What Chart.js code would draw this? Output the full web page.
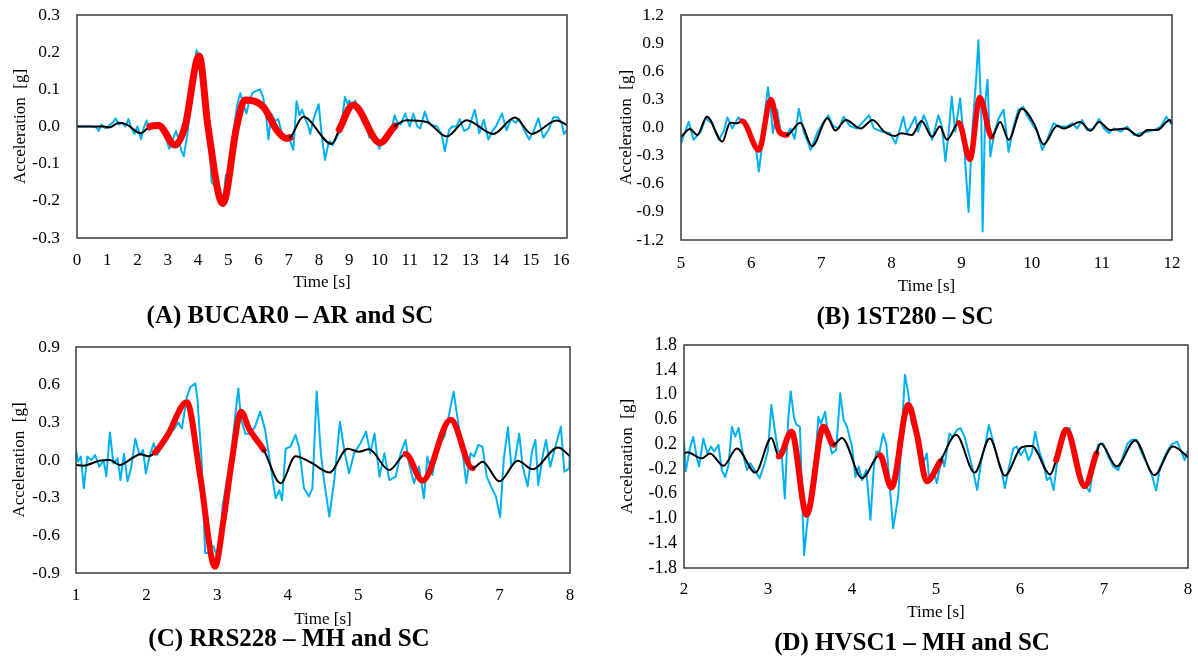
<!DOCTYPE html>
<html>
<head>
<meta charset="utf-8">
<script src="https://cdn.jsdelivr.net/npm/chart.js@4.4.0/dist/chart.umd.min.js"></script>
<style>
  body { margin: 0; width: 1198px; height: 661px; overflow: hidden; background: #fff; position: relative; }
  canvas { position: absolute; }
  .cap { position: absolute; font: bold 25px "Liberation Serif", serif; line-height: 30px; text-align: center; white-space: nowrap; color: #000; }
</style>
</head>
<body>
<canvas id="chartA"></canvas>
<canvas id="chartB"></canvas>
<canvas id="chartC"></canvas>
<canvas id="chartD"></canvas>
<div class="cap" style="left:90px;width:400px;top:300px">(A) BUCAR0 – AR and SC</div>
<div class="cap" style="left:705px;width:400px;top:301px">(B) 1ST280 – SC</div>
<div class="cap" style="left:89px;width:400px;top:623px">(C) RRS228 – MH and SC</div>
<div class="cap" style="left:712px;width:400px;top:627px">(D) HVSC1 – MH and SC</div>
<script>
// ---- (A) BUCAR0 ----
const aRangeX = [0, 16.2];
const aTicksX = [0, 1, 2, 3, 4, 5, 6, 7, 8, 9, 10, 11, 12, 13, 14, 15, 16];
const aTicksY = [-0.3, -0.2, -0.1, 0, 0.1, 0.2, 0.3];
const aBlue = [[0,0],[0.5,0],[0.65,-0.003],[0.72,-0.012],[0.8,0.005],[0.95,-0.005],[1.05,0.002],[1.2,0.012],[1.28,0.022],[1.38,0.005],[1.5,0.01],[1.6,0],[1.7,0.02],[1.8,-0.005],[1.9,-0.02],[2.0,0],[2.12,-0.034],[2.2,-0.005],[2.3,0.016],[2.38,-0.01],[2.5,0],[2.65,0.01],[2.8,-0.005],[2.95,-0.035],[3.05,-0.06],[3.15,-0.04],[3.27,-0.012],[3.38,-0.04],[3.45,-0.065],[3.53,-0.08],[3.65,-0.02],[3.75,0.05],[3.85,0.14],[3.95,0.205],[4.05,0.185],[4.12,0.19],[4.2,0.15],[4.3,0.06],[4.38,-0.05],[4.45,-0.15],[4.55,-0.16],[4.62,-0.14],[4.72,-0.19],[4.82,-0.21],[4.92,-0.13],[5.0,-0.125],[5.1,-0.06],[5.2,0],[5.3,0.06],[5.4,0.09],[5.5,0.06],[5.6,0.035],[5.7,0.07],[5.8,0.09],[5.9,0.095],[6.05,0.1],[6.15,0.08],[6.25,0.03],[6.33,-0.035],[6.42,0.035],[6.55,0.015],[6.65,0.02],[6.75,-0.01],[6.85,-0.035],[6.95,-0.025],[7.05,-0.04],[7.15,-0.063],[7.26,0.068],[7.36,0.03],[7.44,0.045],[7.55,0.02],[7.65,0],[7.71,-0.02],[7.82,0.02],[7.99,0.06],[8.1,-0.03],[8.2,-0.09],[8.3,-0.05],[8.37,-0.04],[8.45,-0.05],[8.55,-0.035],[8.7,-0.01],[8.78,0.03],[8.86,0.08],[8.95,0.06],[9.0,0.07],[9.1,0.05],[9.2,0.07],[9.3,0.045],[9.4,0.035],[9.5,0.025],[9.58,0],[9.66,-0.03],[9.78,-0.02],[9.9,-0.04],[10.0,-0.06],[10.1,-0.035],[10.2,-0.03],[10.3,-0.02],[10.4,-0.008],[10.5,0.03],[10.6,0.01],[10.7,0.005],[10.85,0.035],[11.0,0],[11.12,0.035],[11.25,0],[11.35,-0.005],[11.5,0.04],[11.6,0.015],[11.7,0.005],[11.9,0],[12.05,-0.02],[12.16,-0.066],[12.3,-0.01],[12.4,0],[12.55,0],[12.65,0.02],[12.8,-0.012],[12.95,-0.005],[13.15,0.045],[13.3,-0.018],[13.45,0.018],[13.6,-0.035],[13.75,-0.01],[13.85,0],[14.05,0.035],[14.2,-0.01],[14.35,0.02],[14.5,0.01],[14.62,0.02],[14.8,-0.012],[14.95,-0.035],[15.1,-0.012],[15.25,0.022],[15.42,-0.03],[15.6,-0.008],[15.75,0.025],[15.9,0.025],[16.02,0.01],[16.1,-0.02],[16.2,-0.01]];
const aSmooth = [[0,0],[0.9,0],[1.05,-0.003],[1.4,0.01],[1.65,0.005],[2.1,-0.018],[2.41,0],[2.7,0.003],[3.24,-0.05],[3.57,0],[4.04,0.19],[4.33,0],[4.82,-0.207],[5.28,0],[5.55,0.071],[6.16,0.053],[6.6,-0.009],[6.93,-0.032],[7.04,-0.03],[7.48,0.026],[8.42,-0.047],[8.67,-0.008],[9.13,0.058],[10.02,-0.044],[10.51,0.001],[10.9,0.017],[11.56,0.012],[12.22,-0.027],[12.88,0.017],[13.76,-0.02],[14.48,0.024],[15.03,-0.02],[15.86,0.016],[16.2,0.004]];
const aRed = [[2.41, 7.04], [8.67, 10.51]];

// ---- (B) 1ST280 ----
const bRangeX = [5, 12];
const bTicksX = [5, 6, 7, 8, 9, 10, 11, 12];
const bTicksY = [-1.2, -0.9, -0.6, -0.3, 0, 0.3, 0.6, 0.9, 1.2];
const bBlue = [[5.0,-0.17],[5.06,-0.045],[5.11,0.06],[5.18,-0.13],[5.28,-0.05],[5.35,0.1],[5.44,0.045],[5.54,-0.13],[5.61,-0.04],[5.66,0.11],[5.73,-0.01],[5.82,0.11],[5.9,0.03],[5.99,-0.1],[6.06,-0.17],[6.11,-0.47],[6.16,-0.17],[6.2,0.19],[6.24,0.43],[6.28,0.19],[6.31,-0.06],[6.37,0.19],[6.42,-0.045],[6.49,-0.1],[6.56,-0.01],[6.62,-0.12],[6.68,0.2],[6.75,-0.045],[6.85,-0.24],[6.94,-0.06],[7.01,0.03],[7.1,0.13],[7.17,0.015],[7.25,-0.01],[7.32,0.115],[7.41,0.015],[7.51,-0.01],[7.68,0.13],[7.75,-0.01],[7.87,-0.045],[7.98,-0.06],[8.06,-0.17],[8.11,-0.045],[8.17,0.115],[8.22,-0.06],[8.27,0.01],[8.34,0.115],[8.38,-0.045],[8.46,0.13],[8.5,0.06],[8.58,-0.13],[8.67,0.13],[8.72,0.01],[8.77,-0.36],[8.81,-0.1],[8.86,0.33],[8.91,-0.045],[8.98,0.31],[9.03,-0.13],[9.1,-0.9],[9.15,-0.06],[9.21,0.54],[9.24,0.93],[9.28,0.19],[9.3,-1.11],[9.34,0.29],[9.37,0.51],[9.41,-0.31],[9.47,-0.045],[9.53,0.1],[9.6,0.19],[9.67,-0.26],[9.74,0.01],[9.81,0.19],[9.88,0.22],[9.93,0.13],[10.0,0.045],[10.08,-0.045],[10.15,-0.24],[10.22,-0.13],[10.31,0.045],[10.41,0.01],[10.5,0.01],[10.58,0.045],[10.65,-0.01],[10.72,0.08],[10.79,-0.027],[10.88,-0.01],[10.96,0.09],[11.03,-0.01],[11.1,-0.06],[11.17,-0.01],[11.27,-0.045],[11.36,0.01],[11.46,-0.08],[11.55,-0.06],[11.65,-0.045],[11.74,-0.027],[11.84,0.01],[11.92,0.115],[12.0,0.027]];
const bSmooth = [[5.0,-0.1],[5.13,-0.015],[5.23,-0.08],[5.37,0.115],[5.59,-0.15],[5.7,0.05],[5.8,0.045],[5.87,0.07],[6.11,-0.24],[6.28,0.3],[6.4,-0.045],[6.51,-0.08],[6.7,0.05],[6.87,-0.2],[7.09,0.1],[7.2,-0.033],[7.35,0.08],[7.56,-0.01],[7.73,0.08],[7.9,-0.045],[8.05,-0.09],[8.14,-0.06],[8.29,-0.08],[8.43,0.07],[8.58,-0.1],[8.69,0.01],[8.79,-0.13],[8.96,0.05],[9.12,-0.34],[9.26,0.32],[9.43,-0.1],[9.55,0.06],[9.67,-0.13],[9.86,0.2],[10.03,0.045],[10.17,-0.18],[10.36,0.015],[10.46,-0.01],[10.69,0.06],[10.84,-0.035],[10.96,0.06],[11.12,-0.027],[11.34,-0.01],[11.53,-0.09],[11.65,-0.027],[11.79,-0.027],[11.97,0.08],[12.0,0.045]];
const bRed = [[5.87, 6.51], [8.96, 9.43]];

// ---- (C) RRS228 ----
const cRangeX = [1, 8];
const cTicksX = [1, 2, 3, 4, 5, 6, 7, 8];
const cTicksY = [-0.9, -0.6, -0.3, 0, 0.3, 0.6, 0.9];
const cBlue = [[1.0,0.08],[1.03,-0.013],[1.07,0.027],[1.11,-0.225],[1.16,0.027],[1.22,0],[1.27,0.04],[1.33,-0.053],[1.39,0],[1.43,-0.13],[1.48,0.22],[1.53,-0.027],[1.59,0.013],[1.63,-0.16],[1.68,0.05],[1.73,-0.17],[1.78,-0.066],[1.84,0.17],[1.9,0.04],[1.95,0.08],[1.99,-0.106],[2.04,0.027],[2.1,0.133],[2.15,0.04],[2.22,0.106],[2.29,0.2],[2.38,0.24],[2.45,0.3],[2.5,0.25],[2.57,0.5],[2.62,0.58],[2.69,0.61],[2.72,0.49],[2.78,0],[2.83,-0.74],[2.88,-0.74],[2.92,-0.68],[2.95,-0.69],[3.02,-0.8],[3.08,-0.35],[3.19,0],[3.26,0.37],[3.3,0.57],[3.34,0.32],[3.4,0.21],[3.47,0.21],[3.54,0.27],[3.61,0.385],[3.68,0.24],[3.73,0.053],[3.78,-0.13],[3.83,-0.305],[3.88,-0.24],[3.92,-0.32],[3.97,0.09],[4.04,0.106],[4.11,0.2],[4.16,0.106],[4.23,-0.225],[4.3,-0.29],[4.35,-0.225],[4.41,0.545],[4.47,0.053],[4.52,-0.186],[4.59,-0.45],[4.66,-0.16],[4.74,0.305],[4.8,0.08],[4.87,-0.106],[4.94,0.053],[5.03,0.133],[5.11,0.226],[5.17,0.053],[5.23,0.21],[5.3,-0.133],[5.37,0.053],[5.44,-0.16],[5.53,-0.133],[5.6,0.053],[5.67,0.16],[5.72,-0.027],[5.79,-0.186],[5.86,-0.053],[5.93,-0.305],[5.98,0.027],[6.05,-0.12],[6.12,0.106],[6.22,0.186],[6.29,0.37],[6.35,0.545],[6.41,0.32],[6.48,0.053],[6.53,-0.186],[6.59,0.053],[6.64,0.027],[6.7,0.12],[6.76,0.106],[6.82,-0.133],[6.88,-0.21],[6.95,-0.29],[7.01,-0.456],[7.06,0],[7.12,0.26],[7.17,-0.053],[7.22,0],[7.28,0.21],[7.33,-0.053],[7.4,-0.21],[7.46,0.066],[7.51,0.16],[7.55,-0.2],[7.62,0.053],[7.66,0.16],[7.72,-0.053],[7.78,0.08],[7.87,0.265],[7.92,-0.093],[7.99,-0.066],[8.0,0.09]];
const cSmooth = [[1.0,-0.04],[1.1,-0.045],[1.34,-0.005],[1.48,0],[1.62,-0.04],[1.81,0.02],[1.91,0.045],[2.03,0.03],[2.12,0.06],[2.29,0.19],[2.57,0.46],[2.76,-0.13],[2.97,-0.85],[3.09,-0.48],[3.21,0],[3.34,0.385],[3.45,0.25],[3.66,0.08],[3.9,-0.185],[4.11,0.03],[4.33,-0.02],[4.59,-0.1],[4.85,0.09],[5.01,0.066],[5.15,0.085],[5.44,-0.08],[5.67,0.048],[5.91,-0.165],[6.31,0.32],[6.62,-0.066],[6.76,-0.013],[7.0,-0.17],[7.26,-0.005],[7.47,-0.074],[7.83,0.1],[8.0,0.03]];
const cRed = [[2.12, 3.66], [5.67, 6.62]];

// ---- (D) HVSC1 ----
const dRangeX = [2, 8];
const dTicksX = [2, 3, 4, 5, 6, 7, 8];
const dTicksY = [-1.8, -1.4, -1.0, -0.6, -0.2, 0.2, 0.6, 1.0, 1.4, 1.8];
const dBlue = [[2.0,0.24],[2.02,-0.24],[2.07,0.13],[2.11,0.32],[2.15,0],[2.18,-0.16],[2.23,0.29],[2.28,0.05],[2.32,0.16],[2.36,0.08],[2.41,0.19],[2.45,-0.22],[2.49,-0.33],[2.53,-0.14],[2.57,0.48],[2.61,0.32],[2.65,0.46],[2.7,0.05],[2.75,-0.22],[2.79,-0.11],[2.85,-0.24],[2.9,-0.35],[2.96,-0.11],[3.0,0.1],[3.04,0.83],[3.08,0.43],[3.12,0.08],[3.16,0.1],[3.2,-0.68],[3.24,0.59],[3.27,1.05],[3.31,0.62],[3.34,0.51],[3.38,0.48],[3.41,-0.81],[3.43,-1.59],[3.46,-1.16],[3.5,-0.7],[3.55,-0.27],[3.6,0.64],[3.63,0.53],[3.68,0.72],[3.72,0.29],[3.76,0.05],[3.81,0.1],[3.86,1.02],[3.9,0.59],[3.94,0.48],[4.0,0.16],[4.04,-0.33],[4.08,-0.16],[4.12,-0.38],[4.17,-0.22],[4.22,-1.02],[4.26,-0.16],[4.29,0.08],[4.33,0.08],[4.37,0.37],[4.41,0.19],[4.45,-0.49],[4.49,-1.16],[4.53,-0.81],[4.55,-0.65],[4.59,0.32],[4.63,1.32],[4.67,1.02],[4.71,0.54],[4.77,0.35],[4.82,0.1],[4.85,-0.11],[4.89,0.05],[4.92,-0.38],[4.97,-0.22],[5.01,-0.43],[5.07,0],[5.1,-0.16],[5.16,0.37],[5.2,0.32],[5.25,0.43],[5.29,0.46],[5.34,0.32],[5.39,0.05],[5.44,-0.22],[5.49,-0.54],[5.54,-0.06],[5.59,0.21],[5.63,0.51],[5.68,0.24],[5.74,-0.06],[5.78,-0.22],[5.82,-0.51],[5.87,-0.16],[5.92,0.13],[5.96,0.16],[6.01,0.02],[6.06,0.13],[6.1,-0.06],[6.14,0.05],[6.18,0.4],[6.23,0.08],[6.28,-0.11],[6.32,-0.38],[6.36,-0.33],[6.4,-0.54],[6.44,-0.11],[6.49,0.13],[6.55,0.43],[6.59,0.46],[6.65,0.16],[6.71,-0.24],[6.77,-0.46],[6.83,-0.57],[6.88,-0.11],[6.93,0.19],[6.99,0.21],[7.05,0],[7.11,-0.16],[7.17,-0.22],[7.23,0.02],[7.28,0.21],[7.33,0.27],[7.39,0.27],[7.45,0.05],[7.51,-0.11],[7.57,-0.3],[7.62,-0.55],[7.67,-0.16],[7.74,0.05],[7.8,0.19],[7.87,0.24],[7.92,0.08],[7.96,-0.06],[8.0,0.1]];
const dSmooth = [[2.0,0.05],[2.04,0.07],[2.21,-0.03],[2.31,0.05],[2.47,-0.15],[2.63,0.13],[2.85,-0.26],[3.04,0.3],[3.13,0],[3.28,0.4],[3.46,-0.94],[3.66,0.48],[3.78,0.19],[3.88,0.3],[4.12,-0.35],[4.33,0.025],[4.47,-0.5],[4.67,0.83],[4.77,0.37],[4.89,-0.4],[5.05,-0.08],[5.24,0.35],[5.46,-0.26],[5.64,0.29],[5.82,-0.31],[6.02,0.15],[6.14,0.17],[6.36,-0.29],[6.43,-0.06],[6.55,0.43],[6.77,-0.48],[6.91,0.05],[6.96,0.21],[7.15,-0.16],[7.37,0.26],[7.6,-0.3],[7.82,0.16],[8.0,-0.01]];
const dRed = [[3.13, 3.78], [4.33, 5.05], [6.43, 6.91]];

const FONT = '"Liberation Serif", "Times New Roman", serif';
const BLUE = '#00b0f0';

function toPoints(arr) {
    return arr.map(p => ({ x: p[0], y: p[1] }));
}

// draws the box around the plot area
const framePlugin = {
    id: 'frame',
    afterDraw(chart) {
        const { ctx, chartArea: a } = chart;
        ctx.save();
        ctx.strokeStyle = '#3a3a3a';
        ctx.lineWidth = 1.5;
        ctx.strokeRect(a.left, a.top, a.right - a.left, a.bottom - a.top);
        ctx.restore();
    }
};

function makePanel(id, L, rangeX, ticksX, ticksY, blue, smooth, red) {
    const cv = document.getElementById(id);
    cv.width = L.w; cv.height = L.h;
    cv.style.left = L.left + 'px'; cv.style.top = L.top + 'px';
    const a = L.area;
    const xH = L.xTitleY + 10.2 - a.b;
    const inRed = c => red.some(r => c.p0.parsed.x >= r[0] - 1e-9 && c.p1.parsed.x <= r[1] + 1e-9);

    return new Chart(cv, {
        type: 'line',
        data: {
            datasets: [{
                data: toPoints(smooth),
                borderColor: '#000',
                borderWidth: 2,
                cubicInterpolationMode: 'monotone',
                borderCapStyle: 'round',
                borderJoinStyle: 'round',
                pointRadius: 0,
                segment: {
                    borderColor: c => inRed(c) ? '#ff0000' : '#000000',
                    borderWidth: c => inRed(c) ? L.redW : 2
                }
            }, {
                data: toPoints(blue),
                borderColor: BLUE,
                borderWidth: 2,
                tension: 0,
                borderJoinStyle: 'round',
                pointRadius: 0
            }]
        },
        options: {
            responsive: false,
            animation: false,
            layout: {
                padding: { top: a.t - L.top, left: 0, right: L.left + L.w - a.r, bottom: L.top + L.h - a.b - xH }
            },
            plugins: { legend: { display: false }, tooltip: { enabled: false } },
            scales: {
                x: {
                    type: 'linear',
                    min: rangeX[0], max: rangeX[1],
                    grid: { display: false, drawTicks: false },
                    border: { display: false },
                    afterBuildTicks: s => { s.ticks = ticksX.map(v => ({ value: v })); },
                    afterFit: s => { s.height = xH; s.paddingLeft = 0; s.paddingRight = 0; },
                    ticks: { autoSkip: false, padding: L.tickY - a.b - 9.4, color: '#000', font: { family: FONT, size: 17 }, maxRotation: 0, callback: v => String(v) },
                    title: { display: true, text: 'Time [s]', color: '#000', font: { family: FONT, size: 17 }, padding: 0 }
                },
                y: {
                    min: ticksY[0], max: ticksY[ticksY.length - 1],
                    grid: { display: false, drawTicks: false },
                    border: { display: false },
                    afterBuildTicks: s => { s.ticks = ticksY.map(v => ({ value: v })); },
                    afterFit: s => { s.width = a.l - L.left; s.paddingTop = 0; s.paddingBottom = 0; },
                    ticks: { autoSkip: false, padding: L.yTickGap, color: '#000', font: { family: FONT, size: L.yFont },
                             callback: v => (Math.abs(v) < 1e-9 ? 0 : v).toFixed(1) },
                    title: { display: true, text: 'Acceleration  [g]', color: '#000', font: { family: FONT, size: 17 },
                             padding: { top: L.yTitleX - L.left - 10.2, bottom: 0 } }
                }
            }
        },
        plugins: [framePlugin]
    });
}

makePanel('chartA', { left: 0, top: 0, w: 590, h: 320, area: { l: 77, t: 15, r: 567, b: 238 }, tickY: 260, xTitleY: 283, yTitleX: 21, yTickGap: 17, yFont: 17.5, redW: 7 },
    aRangeX, aTicksX, aTicksY, aBlue, aSmooth, aRed);
makePanel('chartB', { left: 600, top: 0, w: 598, h: 320, area: { l: 681, t: 15, r: 1172, b: 240 }, tickY: 263, xTitleY: 287, yTitleX: 627, yTickGap: 17, yFont: 17.5, redW: 5.5 },
    bRangeX, bTicksX, bTicksY, bBlue, bSmooth, bRed);
makePanel('chartC', { left: 0, top: 330, w: 590, h: 320, area: { l: 76, t: 347, r: 570, b: 573 }, tickY: 595, xTitleY: 620, yTitleX: 20, yTickGap: 16, yFont: 17.5, redW: 6 },
    cRangeX, cTicksX, cTicksY, cBlue, cSmooth, cRed);
makePanel('chartD', { left: 600, top: 330, w: 598, h: 320, area: { l: 684, t: 345, r: 1188, b: 568 }, tickY: 589, xTitleY: 613, yTitleX: 628, yTickGap: 7, yFont: 18, redW: 6 },
    dRangeX, dTicksX, dTicksY, dBlue, dSmooth, dRed);
</script>
</body>
</html>
